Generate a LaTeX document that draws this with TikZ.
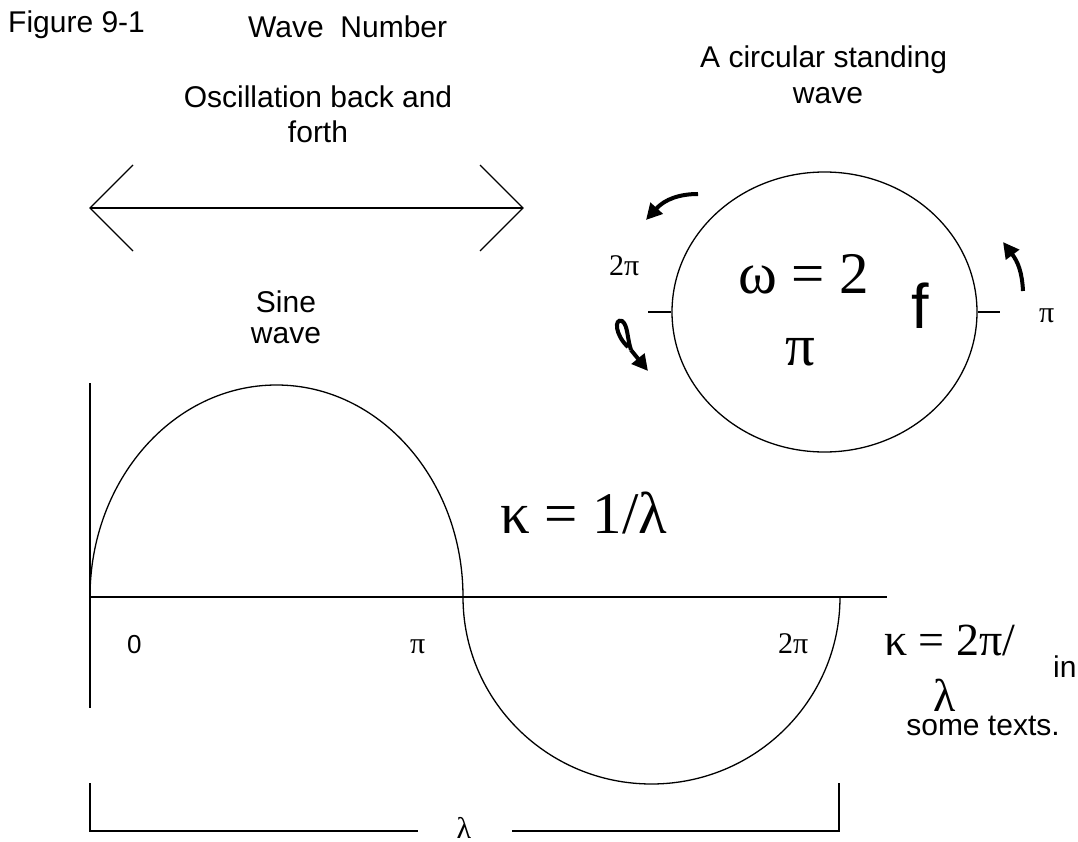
\documentclass[tikz,border=0pt]{standalone}
\usepackage{fontspec}
\setmainfont{Liberation Sans}
\newfontfamily\tms{Liberation Serif}
\usetikzlibrary{arrows.meta,shapes.geometric}
\begin{document}
\begin{tikzpicture}[x=1pt,y=-1pt,
  ln/.style={line width=1.3pt},
  sans/.style={font=\fontsize{30}{34}\selectfont, inner sep=0pt, anchor=base},
  bigsans/.style={font=\fontsize{63}{70}\selectfont, inner sep=0pt, anchor=base},
  sym/.style={font=\tms\fontsize{30}{34}\selectfont, inner sep=0pt, anchor=base},
  bigsym/.style={font=\tms\fontsize{59}{64}\selectfont, inner sep=0pt, anchor=base},
  midsym/.style={font=\tms\fontsize{46}{50}\selectfont, inner sep=0pt, anchor=base},
  curarrow/.style={line width=4pt, -{Triangle[length=16pt,width=16pt]}}
]
\useasboundingbox (0,0) rectangle (1078,842);

% titles
\node[sans, anchor=base west] (fig) at (8,33) {Figure 9-1};
\node[sans, anchor=base west] (title) at (248,38) {Wave\ \ Number};
\node[sans] (osc1) at (318,108) {Oscillation back and};
\node[sans] (osc2) at (318,143) {forth};
\node[sans, anchor=base west] (circ1) at (700,68) {A circular standing};
\node[sans] (circ2) at (828,104) {wave};

% double arrow
\coordinate (dl) at (90,208);
\coordinate (dr) at (523,208);
\draw[ln] (dl) -- (dr);
\draw[ln] (133,165) -- (dl) -- (133,251);
\draw[ln] (480,165) -- (dr) -- (480,251);

% circle
\node[draw, ln, ellipse, minimum width=305pt, minimum height=280pt, inner sep=0pt] (circ) at (824.5,312) {};
\coordinate (tl) at (648,312);
\coordinate (tr) at (1000,312);
\draw[ln] (tl) -- (circ.west);
\draw[ln] (circ.east) -- (tr);
\node[sym, anchor=base west] (l2pi) at (609,275) {2π};
\node[sym, anchor=base west] (rpi) at (1039,322) {π};
\node[bigsym, anchor=base west] (omega) at (738,293) {ω = 2};
\node[bigsym, anchor=base west] (opi) at (785,365) {π};
\node[bigsans, anchor=base west] (f) at (911,328) {f};

% curved arrows
\coordinate (a1s) at (698,194);
\coordinate (a1e) at (646,220);
\draw[curarrow] (a1s) .. controls (680,194) and (665,199) .. (a1e);
\coordinate (a2s) at (1023,291);
\coordinate (a2e) at (1003,242);
\draw[curarrow] (a2s) .. controls (1022,272) and (1018,262) .. (a2e);
\coordinate (a3s) at (628,347);
\coordinate (a3e) at (648,371);
\draw[line width=4pt] (a3s) .. controls (615,335) and (614,318) .. (622,321) .. controls (628,325) and (627,338) .. (631,350);
\draw[curarrow] (631,350) -- (a3e);

% sine wave
\node[sans] (sine1) at (286,312) {Sine};
\node[sans] (sine2) at (286,343) {wave};
\coordinate (o) at (90,597);
\coordinate (mid) at (463,597);
\coordinate (end) at (840,597);
\draw[ln] (90,383) -- (90,708);
\draw[ln] (o) -- (887,597);
\draw[ln] (o) arc[start angle=180, end angle=0, x radius=186.5, y radius=-212];
\draw[ln] (mid) arc[start angle=180, end angle=360, x radius=188.5, y radius=-187];

\node[bigsym, anchor=base west] (k1) at (500,533) {κ = 1/λ};
\node[sans, font=\fontsize{26}{30}\selectfont, anchor=base west] (zero) at (127,653) {0};
\node[sym, anchor=base west] (pi1) at (410,653) {π};
\node[sym, anchor=base west] (pi2) at (778,653) {2π};

\node[midsym, anchor=base west] (k2) at (884,655) {κ = 2π/};
\node[midsym] (k2l) at (945,711) {λ};
\node[sans, anchor=base west] (in) at (1053,677) {in};
\node[sans] (some) at (983,735) {some texts.};

% bracket
\coordinate (bl) at (90,783);
\coordinate (br) at (839,783);
\node[sym] (lam) at (464,838) {λ};
\draw[ln] (bl) -- (90,831) -- (418,831);
\draw[ln] (512,831) -- (839,831) -- (br);
\end{tikzpicture}
\end{document}
